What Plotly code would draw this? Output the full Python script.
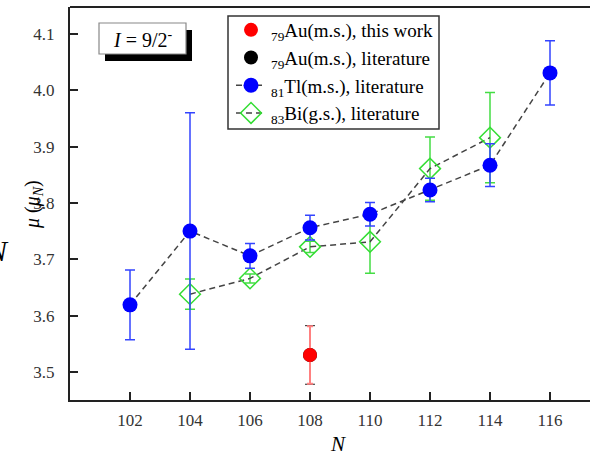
import plotly.graph_objects as go

# ---- data ----
N_tl = [102, 104, 106, 108, 110, 112, 114, 116]
mu_tl = [3.619, 3.750, 3.706, 3.756, 3.780, 3.823, 3.867, 4.031]
err_tl = [0.062, 0.210, 0.022, 0.022, 0.021, 0.021, 0.038, 0.057]

N_bi = [104, 106, 108, 110, 112, 114]
mu_bi = [3.638, 3.666, 3.722, 3.731, 3.861, 3.916]
err_bi = [0.027, 0.008, 0.010, 0.056, 0.056, 0.080]

N_au_this = [108]
mu_au_this = [3.530]
err_au_this = [0.051]

N_au_lit = [108]
mu_au_lit = [3.530]
err_au_lit = [0.052]

x_ticks = [102, 104, 106, 108, 110, 112, 114, 116]
y_ticks = [3.5, 3.6, 3.7, 3.8, 3.9, 4.0, 4.1]

FONT = "Liberation Serif, Times New Roman, serif"
DASH = "6px,4px"

fig = go.Figure()

fig.add_trace(go.Scatter(
    x=N_au_lit, y=mu_au_lit, mode="markers",
    name="<sub>79</sub>Au(m.s.), literature",
    marker=dict(color="black", size=14),
    error_y=dict(type="data", array=err_au_lit, color="#222222", thickness=1, width=5),
    legendrank=2,
))
fig.add_trace(go.Scatter(
    x=N_au_this, y=mu_au_this, mode="markers",
    name="<sub>79</sub>Au(m.s.), this work",
    marker=dict(color="#ff0000", size=14),
    error_y=dict(type="data", array=err_au_this, color="#ff8080", thickness=2, width=3),
    legendrank=1,
))
fig.add_trace(go.Scatter(
    x=N_bi, y=mu_bi, mode="lines+markers",
    name="<sub>83</sub>Bi(g.s.), literature",
    line=dict(color="#444444", width=1.5, dash=DASH),
    marker=dict(symbol="diamond-open", color="#33dd33", size=16, line=dict(width=1.5, color="#33dd33")),
    error_y=dict(type="data", array=err_bi, color="#44dd44", thickness=1.5, width=5),
    legendrank=4,
))
fig.add_trace(go.Scatter(
    x=N_tl, y=mu_tl, mode="lines+markers",
    name="<sub>81</sub>Tl(m.s.), literature",
    line=dict(color="#444444", width=1.5, dash=DASH),
    marker=dict(color="#0000ff", size=15),
    error_y=dict(type="data", array=err_tl, color="#3344ff", thickness=1.5, width=5),
    legendrank=3,
))

L, T, B = 70, 7, 58
W, H = 590, 458
pw, ph = W - L, H - T - B

def px(xp):
    return (xp - L) / pw

def py(yp):
    return (H - B - yp) / ph

shapes = [
    dict(type="line", xref="paper", yref="paper", x0=0, x1=1, y0=1, y1=1,
         line=dict(color="#222222", width=2)),
    dict(type="rect", xref="paper", yref="paper", x0=px(105), x1=px(192), y0=py(61), y1=py(30),
         fillcolor="black", line=dict(width=0)),
    dict(type="rect", xref="paper", yref="paper", x0=px(99), x1=px(186), y0=py(54), y1=py(23),
         fillcolor="white", line=dict(color="#888888", width=1.2)),
    # legend frame
    dict(type="rect", xref="paper", yref="paper", x0=px(228), x1=px(439), y0=py(129), y1=py(16),
         fillcolor="white", line=dict(color="#333333", width=1.5), layer="below"),
]

annotations = [
    dict(xref="paper", yref="paper", x=(px(99) + px(186)) / 2, y=(py(54) + py(23)) / 2,
         text="<i>I</i> = 9/2<sup>-</sup>", showarrow=False,
         font=dict(family=FONT, size=20, color="black"), xanchor="center", yanchor="middle"),
    dict(xref="paper", yref="paper", x=px(34), y=py(205),
         text="<i>μ</i> (<i>μ</i><sub><i>N</i></sub>)", textangle=-90, showarrow=False,
         font=dict(family=FONT, size=20, color="black"), xanchor="center", yanchor="middle"),
    dict(xref="paper", yref="paper", x=px(338), y=py(444),
         text="<i>N</i>", showarrow=False,
         font=dict(family=FONT, size=21, color="black"), xanchor="center", yanchor="middle"),
    dict(xref="paper", yref="paper", x=px(11), y=py(250),
         text="<i>N</i>", showarrow=False,
         font=dict(family=FONT, size=30, color="black"), xanchor="right", yanchor="middle"),
]

fig.update_layout(
    width=W, height=H,
    margin=dict(l=L, r=0, t=T, b=B),
    paper_bgcolor="white", plot_bgcolor="white",
    font=dict(family=FONT, size=17, color="#222222"),
    showlegend=True,
    legend=dict(
        x=px(231), y=py(11), xanchor="left", yanchor="top",
        borderwidth=0, bgcolor="rgba(0,0,0,0)",
        font=dict(family=FONT, size=19, color="black"),
        tracegroupgap=0, itemwidth=30,
    ),
    xaxis=dict(
        range=[100, 100 + pw / 30.0], tickvals=x_ticks, ticktext=[str(v) for v in x_ticks],
        showgrid=False, zeroline=False, showline=True, linecolor="#222222", linewidth=2,
        ticks="inside", ticklen=8, tickwidth=1.5, tickcolor="#222222",
        tickfont=dict(family=FONT, size=17, color="#333333"), ticklabelstandoff=4,
    ),
    yaxis=dict(
        range=[3.45, 3.45 + ph / 563.0], tickvals=y_ticks, ticktext=[f"{v:.1f}" for v in y_ticks],
        showgrid=False, zeroline=False, showline=True, linecolor="#222222", linewidth=2,
        ticks="inside", ticklen=8, tickwidth=1.5, tickcolor="#222222",
        tickfont=dict(family=FONT, size=17, color="#333333"), ticklabelstandoff=10,
    ),
    shapes=shapes,
    annotations=annotations,
)

fig.write_html("out.html")
